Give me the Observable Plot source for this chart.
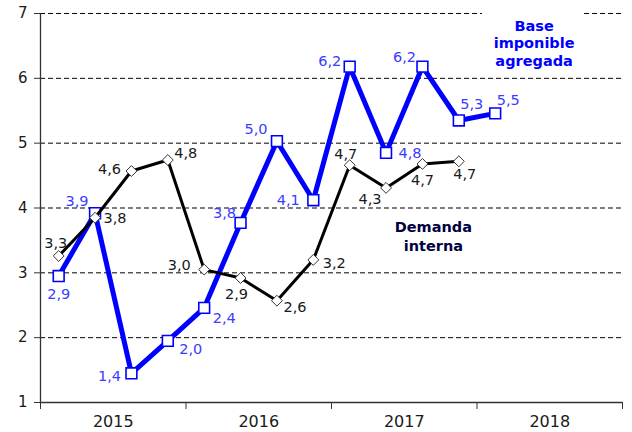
<!DOCTYPE html>
<html><head><meta charset="utf-8">
<script src="https://cdn.jsdelivr.net/npm/d3@7"></script>
<script src="https://cdn.jsdelivr.net/npm/@observablehq/plot@0.6"></script>
<style>body{margin:0;background:#fff} svg{display:block}</style>
</head><body><div id="chart"></div>
<script>
// Quarters 2015T1 .. 2018T1 (index 0..12)
const quarters = ["2015T1","2015T2","2015T3","2015T4","2016T1","2016T2","2016T3","2016T4","2017T1","2017T2","2017T3","2017T4","2018T1"];
const years = ["2015","2016","2017","2018"];
const baseValues = [2.95,3.92,1.45,1.95,2.46,3.77,5.03,4.12,6.18,4.85,6.18,5.35,5.46];
const baseLabels = ["2,9","3,9","1,4","2,0","2,4","3,8","5,0","4,1","6,2","4,8","6,2","5,3","5,5"];
const demandValues = [3.26,3.85,4.57,4.74,3.05,2.92,2.57,3.2,4.66,4.31,4.68,4.72];
const demandLabels = ["3,3","3,8","4,6","4,8","3,0","2,9","2,6","3,2","4,7","4,3","4,7","4,7"];
const yTicks = [1,2,3,4,5,6,7];
const seriesNames = ["Base\nimponible\nagregada", "Demanda\ninterna"];

// label offsets (style only)
const baseOffsets = [[0,18],[-18,-12],[-22,3],[23,8],[20,11],[-16,-10],[-21,-12],[-25,0],[-20,-5],[24,0],[-18,-9],[13,-16],[13,-13]];
const demandOffsets = [[-3,-13],[20,1],[-22,-2],[18,-7],[-25,-4],[-4,16],[18,7],[21,3],[-4,-11],[-16,11],[0,16],[6,13]];

const base = baseValues.map((v,i)=>({i, v, label: baseLabels[i], q: quarters[i]}));
const demand = demandValues.map((v,i)=>({i, v, label: demandLabels[i], q: quarters[i]}));
const yearBounds = d3.range(years.length+1).map(k => k*4 - 0.5);
const yearCenters = years.map((y,k) => k*4 + 1.5);

const FONT = "DejaVu Sans";
const blue = "#0000ff", blueText = "#3b3bff", dark = "#1a1a1a";

const labelMarks = (data, offsets, color) => data.map((d,k) =>
  Plot.text([d], {x: "i", y: "v", text: "label", dx: offsets[k][0], dy: offsets[k][1], fill: color, fontSize: 14.5}));

const chart = Plot.plot({
  width: 632, height: 432,
  marginLeft: 40, marginRight: 10, marginTop: 13, marginBottom: 30,
  style: {fontFamily: FONT, background: "#fff"},
  x: {domain: [-0.5, 15.5], axis: null},
  y: {domain: [1, 7], axis: null},
  marks: [
    Plot.ruleY(yTicks.filter(t => t > 1), {stroke: "#000", strokeWidth: 1, strokeDasharray: "5,3"}),
    // white box behind the top-right series label
    Plot.rect([0], {x1: () => 11.65, x2: () => 14.45, y1: () => 6.3, y2: () => 7.1, fill: "#fff"}),
    Plot.ruleX([-0.5], {stroke: "#333", strokeWidth: 1.3}),
    Plot.ruleY([1], {stroke: "#333", strokeWidth: 1.3}),
    Plot.axisY({ticks: yTicks, label: null, tickSize: 6, tickPadding: 7, fontSize: 15, tickFormat: d => String(d), color: dark, stroke: "#333"}),
    Plot.axisX({ticks: yearBounds, label: null, tickSize: 7, tickFormat: () => "", stroke: "#333"}),
    Plot.axisX({ticks: yearCenters, label: null, tickSize: 0, tickPadding: 13, fontSize: 16, tickFormat: (d) => years[Math.round((d-1.5)/4)], color: dark}),
    Plot.line(base, {x: "i", y: "v", stroke: blue, strokeWidth: 5, strokeLinejoin: "miter"}),
    Plot.dot(base, {x: "i", y: "v", symbol: "square", r: 6.1, fill: "#fff", stroke: blue, strokeWidth: 1.6}),
    Plot.line(demand, {x: "i", y: "v", stroke: "#000", strokeWidth: 3}),
    Plot.dot(demand, {x: "i", y: "v", symbol: "diamond2", r: 4.9, fill: "#fff", stroke: "#333", strokeWidth: 1}),
    ...labelMarks(base, baseOffsets, blueText),
    ...labelMarks(demand, demandOffsets, dark),
    Plot.text([seriesNames[0]], {x: () => 13.07, y: () => 6.55, text: d => d, fill: blue, fontWeight: "bold", fontSize: 14.5, lineHeight: 1.22}),
    Plot.text([seriesNames[1]], {x: () => 10.3, y: () => 3.57, text: d => d, fill: "#000040", fontWeight: "bold", fontSize: 14.5, lineHeight: 1.3})
  ]
});
document.getElementById("chart").appendChild(chart);
</script>
</body></html>
